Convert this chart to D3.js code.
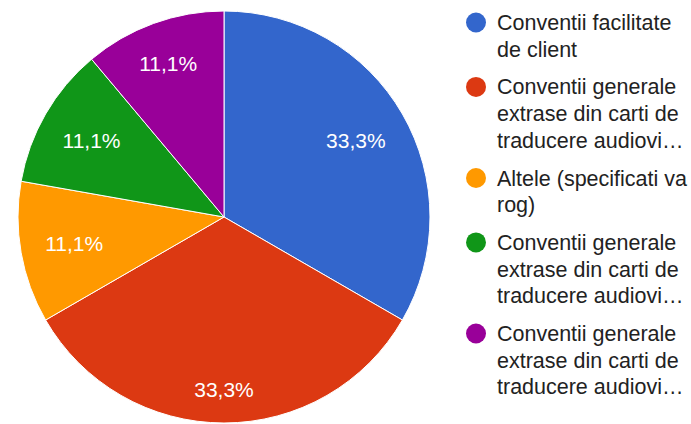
<!DOCTYPE html>
<html>
<head>
<meta charset="utf-8">
<script src="https://cdn.jsdelivr.net/npm/d3@7"></script>
<style>
  html, body { margin: 0; padding: 0; background: #fff; }
  svg { display: block; }
</style>
</head>
<body>
<svg id="chart" width="691" height="424"></svg>
<script>
// Răspunsuri pe categorii
const categories = [
  "Conventii facilitate de client",
  "Conventii generale extrase din carti de traducere audiovi…",
  "Altele (specificati va rog)",
  "Conventii generale extrase din carti de traducere audiovi…",
  "Conventii generale extrase din carti de traducere audiovi…"
];
// Rândurile afișate în legendă pentru fiecare categorie
const legendLines = [
  ["Conventii facilitate", "de client"],
  ["Conventii generale", "extrase din carti de", "traducere audiovi…"],
  ["Altele (specificati va", "rog)"],
  ["Conventii generale", "extrase din carti de", "traducere audiovi…"],
  ["Conventii generale", "extrase din carti de", "traducere audiovi…"]
];
const counts = [3, 3, 1, 1, 1];
const colors = ["#3366cc", "#dc3912", "#ff9900", "#109618", "#990099"];

const svg = d3.select("#chart");
const W = 691, H = 424;
const cx = 224, cy = 217, R = 206;
const labelFont = 21;
const labelReach = 182;

const data = categories.map((c, i) => ({ cat: c, value: counts[i], color: colors[i], lines: legendLines[i] }));
const total = d3.sum(counts);

const pie = d3.pie().value(d => d.value).sort(null).startAngle(0).endAngle(2 * Math.PI);
const arc = d3.arc().innerRadius(0).outerRadius(R);
const arcs = pie(data);

const g = svg.append("g").attr("transform", `translate(${cx},${cy})`);

g.selectAll("path.slice")
  .data(arcs)
  .join("path")
  .attr("class", "slice")
  .attr("d", arc)
  .attr("fill", d => d.data.color)
  .attr("stroke", "#fff")
  .attr("stroke-width", 1);

const fmt = v => (Math.round(v / total * 1000) / 10).toFixed(1).replace(".", ",") + "%";

// Percentage labels: pushed outward along the slice bisector until the
// outer corner of the text box reaches labelReach from the centre.
const labels = g.selectAll("text.pct")
  .data(arcs)
  .join("text")
  .attr("class", "pct")
  .attr("font-family", "'Liberation Sans', Arial, Helvetica, sans-serif")
  .attr("font-size", labelFont)
  .attr("fill", "#fff")
  .attr("text-anchor", "middle")
  .text(d => fmt(d.data.value));

labels.each(function(d) {
  const w = this.getComputedTextLength();
  const h = labelFont * 0.716;
  const a = (d.startAngle + d.endAngle) / 2;
  const ux = Math.sin(a), uy = -Math.cos(a);
  const b = Math.abs(ux) * w / 2 + Math.abs(uy) * h / 2;
  const c0 = (w * w + h * h) / 4 - labelReach * labelReach;
  const dist = -b + Math.sqrt(b * b - c0);
  d3.select(this)
    .attr("x", ux * dist)
    .attr("y", uy * dist + h / 2);
});

// Legend
const legX = 476, textX = 497, firstBase = 30, lineStep = 26.7, itemGap = 11;
const legend = svg.append("g");
let base = firstBase;
data.forEach(d => {
  legend.append("circle")
    .attr("cx", legX)
    .attr("cy", base - 7.5)
    .attr("r", 10)
    .attr("fill", d.color);
  const t = legend.append("text")
    .attr("font-family", "'Liberation Sans', Arial, Helvetica, sans-serif")
    .attr("font-size", 21.5)
    .attr("fill", "#222");
  d.lines.forEach((ln, j) => {
    t.append("tspan")
      .attr("x", textX)
      .attr("y", base + j * lineStep)
      .text(ln);
  });
  base += d.lines.length * lineStep + itemGap;
});
</script>
</body>
</html>
